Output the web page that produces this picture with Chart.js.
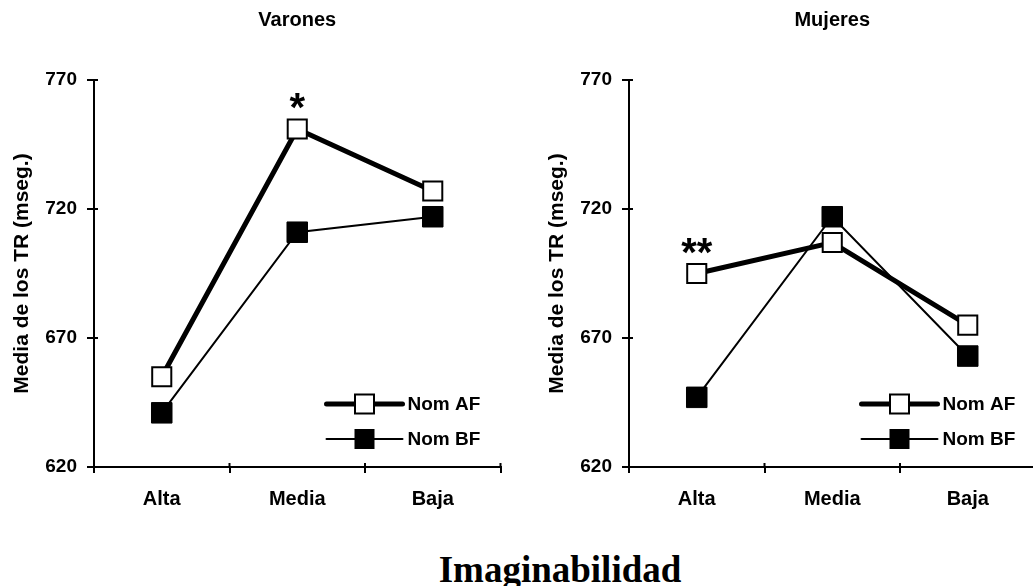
<!DOCTYPE html>
<html>
<head>
<meta charset="utf-8">
<script src="https://cdn.jsdelivr.net/npm/chart.js@4"></script>
<style>
  html, body { margin: 0; padding: 0; background: #fff; overflow: hidden; }
  body { width: 1033px; height: 586px; position: relative; }
  canvas { position: absolute; top: 0; }
  #c-varones { left: 0; }
  #c-mujeres { left: 535px; }
  #xlabel {
    position: absolute; left: 0; top: 551px; width: 1120px;
    text-align: center; font: bold 37px "Liberation Serif", "Times New Roman", serif;
    line-height: 37px; color: #000;
  }
</style>
</head>
<body>
<canvas id="c-varones" width="516" height="540"></canvas>
<canvas id="c-mujeres" width="516" height="540"></canvas>
<div id="xlabel">Imaginabilidad</div>
<script>
const categories = ['Alta', 'Media', 'Baja'];
const seriesNames = ['Nom AF', 'Nom BF'];
const yTicks = [620, 670, 720, 770];

// Varones
const varonesAF = [655, 751, 727];
const varonesBF = [641, 711, 717];
const varonesStars = ['', '*', ''];

// Mujeres
const mujeresAF = [695, 707, 675];
const mujeresBF = [647, 717, 663];
const mujeresStars = ['**', '', ''];

const FONT = '"Liberation Sans", Arial, sans-serif';

// short tick marks on the inner side of both axes
const innerTicks = {
  id: 'innerTicks',
  afterDraw(chart) {
    const { ctx, chartArea } = chart;
    const ys = chart.scales.y;
    ctx.save();
    ctx.strokeStyle = '#000';
    ctx.lineWidth = 2;
    ctx.beginPath();
    yTicks.forEach(v => {
      const y = ys.getPixelForValue(v);
      ctx.moveTo(chartArea.left, y);
      ctx.lineTo(chartArea.left + 4, y);
    });
    const w = (chartArea.right - chartArea.left) / categories.length;
    for (let i = 1; i <= categories.length; i++) {
      const x = chartArea.left + w * i;
      ctx.moveTo(x, chartArea.bottom);
      ctx.lineTo(x, chartArea.bottom - 4);
    }
    ctx.stroke();
    ctx.restore();
  }
};

// significance marks above the AF series
const starMarks = {
  id: 'starMarks',
  afterDatasetsDraw(chart, args, opts) {
    const { ctx } = chart;
    const pts = chart.getDatasetMeta(0).data;
    ctx.save();
    ctx.font = 'bold 40px ' + FONT;
    ctx.fillStyle = '#000';
    ctx.textAlign = 'center';
    ctx.textBaseline = 'alphabetic';
    opts.marks.forEach((m, i) => {
      if (m) ctx.fillText(m, pts[i].x, pts[i].y - 8);
    });
    ctx.restore();
  }
};

// legend drawn inside the plot, bottom right
const insideLegend = {
  id: 'insideLegend',
  afterDraw(chart) {
    const { ctx, chartArea } = chart;
    const mx = chartArea.right - 136;
    const rows = [chartArea.bottom - 63, chartArea.bottom - 28];
    ctx.save();
    chart.data.datasets.forEach((ds, i) => {
      const y = rows[i];
      ctx.strokeStyle = '#000';
      ctx.lineWidth = ds.borderWidth;
      ctx.lineCap = 'round';
      ctx.beginPath();
      ctx.moveTo(mx - 38, y);
      ctx.lineTo(mx + 38, y);
      ctx.stroke();
      ctx.fillStyle = ds.pointBackgroundColor;
      ctx.fillRect(mx - 9.5, y - 9.5, 19, 19);
      ctx.lineWidth = ds.pointBorderWidth;
      ctx.lineCap = 'butt';
      ctx.strokeRect(mx - 9.5, y - 9.5, 19, 19);
      ctx.fillStyle = '#000';
      ctx.font = 'bold 19px ' + FONT;
      ctx.textAlign = 'left';
      ctx.textBaseline = 'middle';
      ctx.fillText(ds.label, mx + 43, y + 1);
    });
    ctx.restore();
  }
};

function makeChart(id, title, af, bf, stars) {
  return new Chart(document.getElementById(id), {
    type: 'line',
    data: {
      labels: categories,
      datasets: [{
        label: seriesNames[0],
        data: af,
        borderColor: '#000',
        borderWidth: 5,
        pointStyle: 'rect',
        pointRadius: 13.5,
        pointBackgroundColor: '#fff',
        pointBorderColor: '#000',
        pointBorderWidth: 2
      }, {
        label: seriesNames[1],
        data: bf,
        borderColor: '#000',
        borderWidth: 2,
        pointStyle: 'rect',
        pointRadius: 14.5,
        pointBackgroundColor: '#000',
        pointBorderColor: '#000',
        pointBorderWidth: 1
      }]
    },
    options: {
      responsive: false,
      animation: false,
      layout: { padding: { top: 0, right: 11, bottom: 0, left: 0 } },
      plugins: {
        legend: { display: false },
        tooltip: { enabled: false },
        title: {
          display: true,
          text: title,
          fullSize: false,
          color: '#000',
          font: { family: FONT, size: 20, weight: 'bold' },
          padding: { top: 8, bottom: 48 }
        },
        starMarks: { marks: stars }
      },
      scales: {
        x: {
          offset: true,
          afterFit: s => { s.height = 73; },
          grid: { offset: true, drawOnChartArea: false, tickLength: 6, lineWidth: 2, color: '#000' },
          border: { display: true, width: 2, color: '#000' },
          ticks: { color: '#000', padding: 14, font: { family: FONT, size: 20, weight: 'bold' } }
        },
        y: {
          min: 620,
          max: 770,
          afterFit: s => { s.width = 94; },
          afterBuildTicks: s => { s.ticks = yTicks.map(v => ({ value: v })); },
          grid: { drawOnChartArea: false, tickLength: 7, lineWidth: 2, color: '#000' },
          border: { display: true, width: 2, color: '#000' },
          ticks: { color: '#000', padding: 10, font: { family: FONT, size: 19, weight: 'bold' } },
          title: {
            display: true,
            text: 'Media de los TR (mseg.)',
            color: '#000',
            padding: { top: 10, bottom: 0 },
            font: { family: FONT, size: 21, weight: 'bold' }
          }
        }
      }
    },
    plugins: [innerTicks, starMarks, insideLegend]
  });
}

makeChart('c-varones', 'Varones', varonesAF, varonesBF, varonesStars);
makeChart('c-mujeres', 'Mujeres', mujeresAF, mujeresBF, mujeresStars);
</script>
</body>
</html>
